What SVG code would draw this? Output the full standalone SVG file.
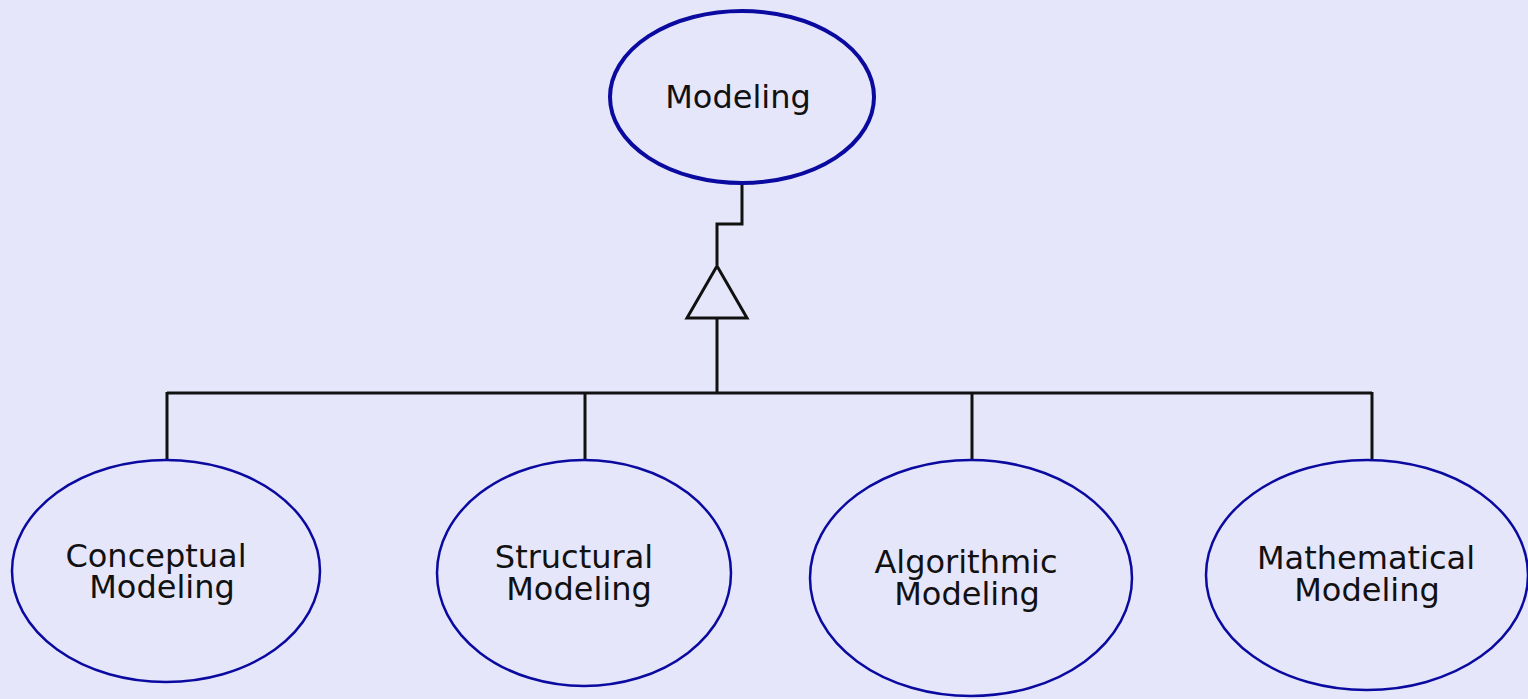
<svg xmlns="http://www.w3.org/2000/svg" width="1528" height="699" viewBox="0 0 1528 699">
  <style>
    .node { fill: #E6E6FA; stroke: #0A0AA0; stroke-width: 2.5; }
    .root { stroke-width: 4; }
    .label { font-family: "DejaVu Sans", sans-serif; font-size: 32px; fill: #111; text-anchor: middle; }
    .edge { fill: none; stroke: #111; stroke-width: 3; }
  </style>
  <rect width="1528" height="699" fill="#E6E6FA"/>

  <!-- generalization connectors -->
  <g id="connectors">
    <polyline class="edge" points="742,185 742,224 717,224 717,265"/>
    <polygon class="edge" points="717,266 687,318 747,318" fill="#E6E6FA"/>
    <line class="edge" x1="717" y1="318" x2="717" y2="394"/>
    <line class="edge" x1="167" y1="393" x2="1372" y2="393"/>
    <line class="edge" x1="167" y1="392" x2="167" y2="460"/>
    <line class="edge" x1="585" y1="392" x2="585" y2="460"/>
    <line class="edge" x1="972" y1="392" x2="972" y2="460"/>
    <line class="edge" x1="1372" y1="392" x2="1372" y2="460"/>
  </g>

  <g id="modeling">
    <ellipse class="node root" cx="742" cy="97" rx="132" ry="86"/>
    <text class="label" x="738" y="108">Modeling</text>
  </g>

  <g id="conceptual-modeling">
    <ellipse class="node" cx="166" cy="571" rx="154" ry="111"/>
    <text class="label" x="156" y="567">Conceptual</text>
    <text class="label" x="162" y="598">Modeling</text>
  </g>

  <g id="structural-modeling">
    <ellipse class="node" cx="584" cy="573" rx="147" ry="113"/>
    <text class="label" x="574" y="568">Structural</text>
    <text class="label" x="579" y="600">Modeling</text>
  </g>

  <g id="algorithmic-modeling">
    <ellipse class="node" cx="971" cy="578" rx="161" ry="118"/>
    <text class="label" x="966" y="573">Algorithmic</text>
    <text class="label" x="967" y="605">Modeling</text>
  </g>

  <g id="mathematical-modeling">
    <ellipse class="node" cx="1367" cy="575" rx="161" ry="115"/>
    <text class="label" x="1366" y="569">Mathematical</text>
    <text class="label" x="1367" y="601">Modeling</text>
  </g>
</svg>
